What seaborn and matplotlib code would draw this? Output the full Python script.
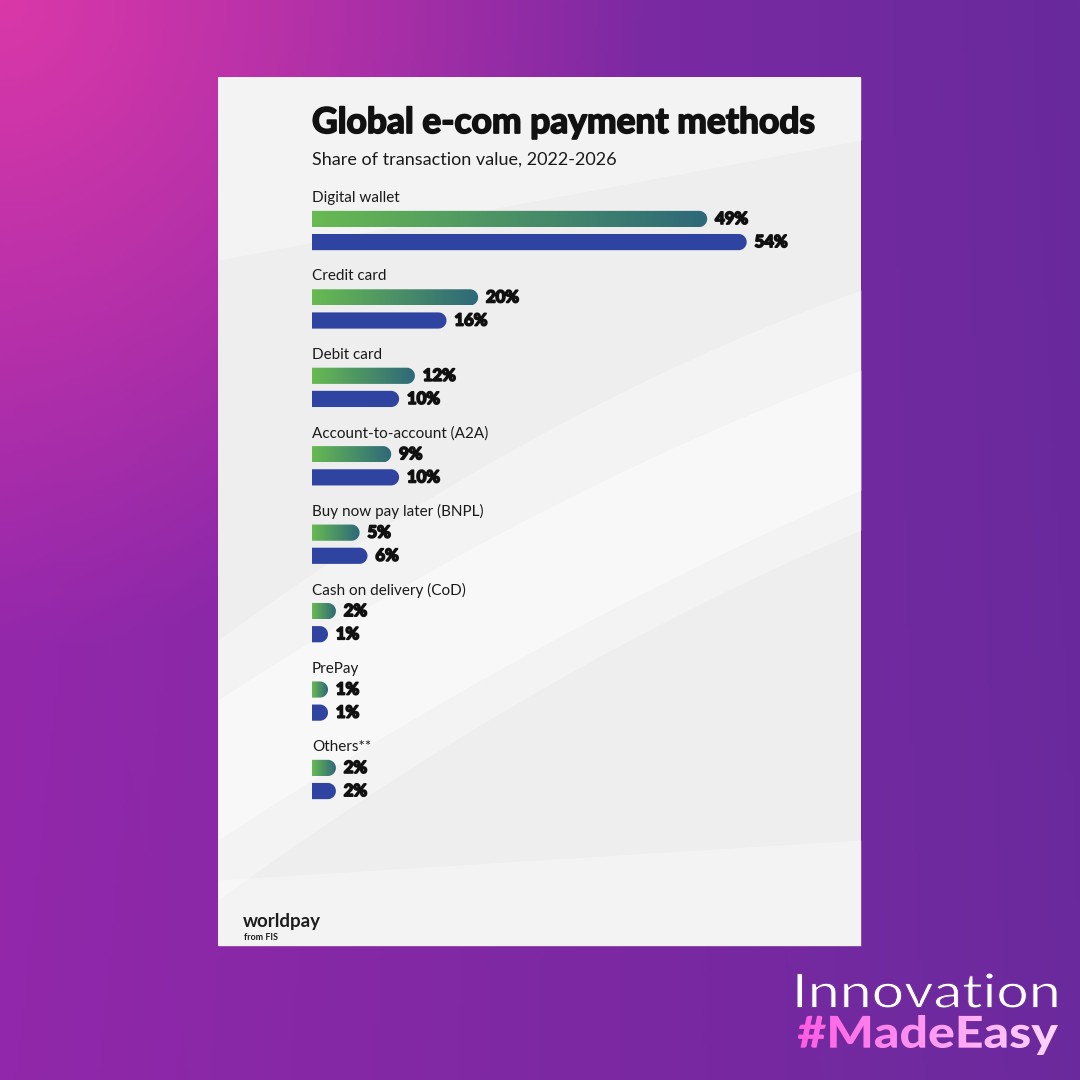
import numpy as np
import pandas as pd
import matplotlib.pyplot as plt
import matplotlib.patheffects as pe
import seaborn as sns
from matplotlib.path import Path
from matplotlib.patches import PathPatch, Rectangle
from matplotlib.textpath import TextPath
from matplotlib.font_manager import FontProperties
from matplotlib.transforms import Affine2D

## data
methods = ["Digital wallet", "Credit card", "Debit card", "Account-to-account (A2A)",
           "Buy now pay later (BNPL)", "Cash on delivery (CoD)", "PrePay", "Others**"]
share_2022 = [49, 20, 12, 9, 5, 2, 1, 2]
share_2026 = [54, 16, 10, 10, 6, 1, 1, 2]
years = ["2022", "2026"]

df = pd.DataFrame({
    "method": methods * 2,
    "share": share_2022 + share_2026,
    "year": [years[0]] * len(methods) + [years[1]] * len(methods),
})

W = H = 1080
sns.set_style("white")
plt.rcParams["font.family"] = ["Lato", "DejaVu Sans"]

fig = plt.figure(figsize=(10.8, 10.8), dpi=100)
heavy = [pe.withStroke(linewidth=1.3, foreground="#111111")]


def fit_text(axis, s, box, weight, zorder=3):
    # text outline squeezed into a pixel box (x0, x1, y_top, y_bottom)
    tp = TextPath((0, 0), s, size=50, prop=FontProperties(family="Lato", weight=weight))
    ext = tp.get_extents()
    x0, x1, yt, yb = box
    tr = Affine2D().translate(-ext.x0, -ext.y0).scale((x1 - x0) / ext.width,
                                                     (yb - yt) / ext.height)
    tr = tr.translate(x0, H - yb)
    patch = PathPatch(tr.transform_path(tp), fc="none", ec="none", zorder=zorder)
    axis.add_patch(patch)
    return patch


##-------------------------------------------
## background layer (pixel coords)
bg = fig.add_axes([0, 0, 1, 1])
bg.set_xlim(0, W)
bg.set_ylim(0, H)
bg.axis("off")

yy, xx = np.mgrid[0:1:300j, 0:1:300j]
left = np.array([150, 40, 172])
right = np.array([104, 42, 156])
pink = np.array([218, 56, 168])
base = (1 - xx)[..., None] * left + xx[..., None] * right
base = base * (1 - 0.15 * yy[..., None]) + 0.15 * yy[..., None] * np.array([120, 38, 160])
glow = np.clip(1 - np.sqrt(xx ** 2 + yy ** 2) / 0.6, 0, 1)[..., None]
img = (base * (1 - glow) + pink * glow) / 255
bg.imshow(img, extent=(0, W, 0, H), origin="upper", aspect="auto", zorder=0)

# card with soft swooshes
card = Rectangle((218, H - 946), 643, 869, fc="#eeeeee", ec="none", zorder=1)
bg.add_patch(card)
xs = np.linspace(218, 861, 200)
t = (xs - 218) / 643
band_specs = [
    (H - (640 - 470 * t + 120 * t ** 2), H - (900 - 470 * t + 100 * t ** 2), 0.35),
    (H - (700 - 420 * t + 90 * t ** 2), H - (840 - 420 * t + 70 * t ** 2), 0.45),
    (H - (77 + 0 * t), H - (260 - 120 * t), 0.35),
    (H - (880 - 40 * t), H - (946 + 0 * t), 0.35),
]
for top, bot, a in band_specs:
    poly = bg.fill_between(xs, bot, top, color="white", alpha=a, lw=0, zorder=1.5)
    poly.set_clip_path(card)

# title block
bg.text(312, H - 123, "Global e-com payment methods", fontsize=25.5, fontweight="bold",
        color="#111111", va="center", ha="left", zorder=3, path_effects=heavy)
bg.text(312, H - 160, "Share of transaction value, 2022-2026", fontsize=13,
        color="#1a1a1a", va="center", ha="left", zorder=3)

# logo
bg.text(243, H - 922, "worldpay", fontsize=13.5, fontweight="bold", color="#1d1d1d",
        va="center", ha="left", zorder=3)
bg.text(244, H - 937, "from FIS", fontsize=6.5, fontweight="bold", color="#1d1d1d",
        va="center", ha="left", zorder=3)

# branding
inn = fit_text(bg, "Innovation", (797, 1057, 973, 1008), "normal")
inn.set_facecolor("white")
inn.set_edgecolor("#6f2a9c")
inn.set_linewidth(0.7)
me = fit_text(bg, "#MadeEasy", (798, 1058, 1015, 1055), "black")
grad = np.linspace(0, 1, 256)[None, :, None]
c0 = np.array([255, 92, 226]) / 255
c1 = np.array([255, 214, 255]) / 255
gimg = np.repeat(c0 * (1 - grad) + c1 * grad, 2, axis=0)
gi = bg.imshow(gimg, extent=(798, 1058, H - 1055, H - 1015), aspect="auto", zorder=3)
gi.set_clip_path(me)
bg.set_xlim(0, W)
bg.set_ylim(0, H)

##-------------------------------------------
## bar chart
ax_l, ax_r = 312, 786
ax_t, ax_b = 191.3, 818.7
ax = fig.add_axes([ax_l / W, 1 - ax_b / H, (ax_r - ax_l) / W, (ax_b - ax_t) / H])
ax.patch.set_alpha(0)
sns.barplot(data=df, y="method", x="share", hue="year", orient="h",
            width=0.59, gap=0.3, palette=["#5fb455", "#2f44a0"], legend=False, ax=ax)
xmax = 60
ax.set_xlim(0, xmax)
ax.set_ylim(len(methods) - 0.5, -0.5)
ax.axis("off")

ppx = (ax_r - ax_l) / xmax
ppy = (ax_b - ax_t) / len(methods)

g0 = np.array([104, 186, 82]) / 255
g1 = np.array([46, 104, 122]) / 255
ggrad = np.repeat(g0 * (1 - grad) + g1 * grad, 2, axis=0)

bars = list(ax.patches)
for k, p in enumerate(bars):
    x0, y0, w, h = p.get_x(), p.get_y(), p.get_width(), p.get_height()
    if w <= 0:
        continue
    p.set_visible(False)
    rx = (h * ppy / 2) / ppx
    yc = y0 + h / 2
    ang = np.linspace(-np.pi / 2, np.pi / 2, 40)
    arc = np.column_stack([x0 + w + rx * np.cos(ang), yc + h / 2 * np.sin(ang)])
    verts = np.vstack([[x0, y0], arc, [x0, y0 + h], [x0, y0]])
    codes = [Path.MOVETO] + [Path.LINETO] * (len(verts) - 2) + [Path.CLOSEPOLY]
    is_2022 = k < len(methods)
    pp = PathPatch(Path(verts, codes), fc="#2f44a0" if not is_2022 else "none",
                   ec="none", zorder=2)
    ax.add_patch(pp)
    if is_2022:
        im = ax.imshow(ggrad, extent=(x0, x0 + w + rx, y0 + h, y0), aspect="auto", zorder=2)
        im.set_clip_path(pp)
    ax.annotate(f"{w:.0f}%", xy=(x0 + w, yc), xytext=(16 * 0.72, 0),
                textcoords="offset points", va="center", ha="left",
                fontsize=12, fontweight="bold", color="#111111", path_effects=heavy)

for i, m in enumerate(methods):
    ax.text(0, i - 0.415, m, fontsize=11, color="#1a1a1a", va="center", ha="left")

ax.set_xlim(0, xmax)
ax.set_ylim(len(methods) - 0.5, -0.5)

plt.savefig("out.png", dpi=100)
